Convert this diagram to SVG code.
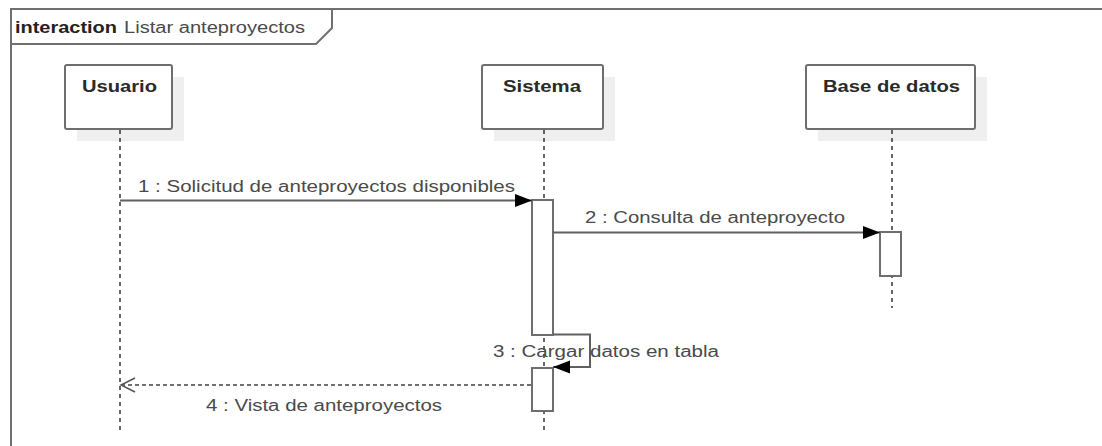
<svg xmlns="http://www.w3.org/2000/svg" width="1102" height="446" viewBox="0 0 1102 446">
<style>
  .frame{fill:none;stroke:#707070;stroke-width:2}
  .box{fill:#ffffff;stroke:#6e6e6e;stroke-width:2}
  .shadow{fill:#efefef;stroke:none}
  .life{stroke:#333;stroke-width:1.5;stroke-dasharray:4 4;fill:none}
  .act{fill:#ffffff;stroke:#6e6e6e;stroke-width:2}
  .msg{stroke:#606060;stroke-width:2;fill:none}
  .ret{stroke:#707070;stroke-width:2;fill:none;stroke-dasharray:4 3}
  .name{font-family:"Liberation Sans",Arial,sans-serif;font-size:16px;font-weight:bold;fill:#2a2a2a}
  .lbl{font-family:"Liberation Sans",Arial,sans-serif;font-size:16px;fill:#4a4a4a}
  .ttl{font-family:"Liberation Sans",Arial,sans-serif;font-size:16px;fill:#4a4a4a}
</style>
<defs>
  <marker id="filled" markerWidth="18" markerHeight="14" refX="17" refY="7" orient="auto" markerUnits="userSpaceOnUse">
    <path d="M0,0.5 L17,7 L0,13.5 Z" fill="#000"/>
  </marker>
  <marker id="open" markerWidth="18" markerHeight="18" refX="1" refY="8" orient="auto-start-reverse" markerUnits="userSpaceOnUse">
    <path d="M16,1 L1,8 L16,15" fill="none" stroke="#555" stroke-width="1.5"/>
  </marker>
</defs>
<rect width="1102" height="446" fill="#ffffff"/>
<g id="frame">
  <rect class="frame" x="11" y="9" width="1100" height="450"/>
  <path class="frame" d="M11,44 L316,44 L332,28 L332,9"/>
  <text x="15" y="33" class="ttl"><tspan font-weight="bold" fill="#222" textLength="102" lengthAdjust="spacingAndGlyphs">interaction</tspan></text>
  <text x="124" y="33" class="ttl" textLength="181" lengthAdjust="spacingAndGlyphs">Listar anteproyectos</text>
</g>
<g id="usuario">
  <rect class="shadow" x="77" y="77" width="107" height="64"/>
  <rect class="box" x="65" y="65" width="107" height="64" rx="2"/>
  <text class="name" x="82" y="92" textLength="75" lengthAdjust="spacingAndGlyphs">Usuario</text>
  <line class="life" x1="120" y1="130" x2="120" y2="434"/>
</g>
<g id="sistema">
  <rect class="shadow" x="494" y="77" width="121" height="64"/>
  <rect class="box" x="482" y="65" width="121" height="64" rx="2"/>
  <text class="name" x="503" y="92" textLength="78" lengthAdjust="spacingAndGlyphs">Sistema</text>
  <line class="life" x1="544" y1="130" x2="544" y2="434"/>
  <rect class="act" x="532" y="200" width="21" height="135"/>
  <rect class="act" x="532" y="368" width="21" height="43"/>
</g>
<g id="basededatos">
  <rect class="shadow" x="818" y="77" width="169" height="64"/>
  <rect class="box" x="806" y="65" width="169" height="64" rx="2"/>
  <text class="name" x="823" y="92" textLength="137" lengthAdjust="spacingAndGlyphs">Base de datos</text>
  <line class="life" x1="892" y1="130" x2="892" y2="308"/>
  <rect class="act" x="880" y="232" width="21" height="44"/>
</g>
<g id="connectors">
  <line class="msg" x1="120" y1="200.5" x2="532" y2="200.5" marker-end="url(#filled)"/>
  <text class="lbl" x="138" y="192" textLength="377" lengthAdjust="spacingAndGlyphs">1 : Solicitud de anteproyectos disponibles</text>
  <line class="msg" x1="553" y1="232.5" x2="880" y2="232.5" marker-end="url(#filled)"/>
  <text class="lbl" x="585" y="223" textLength="260" lengthAdjust="spacingAndGlyphs">2 : Consulta de anteproyecto</text>
  <path class="msg" d="M553,334.5 L590,334.5 L590,367 L553,367" marker-end="url(#filled)"/>
  <text class="lbl" x="493" y="357" textLength="226" lengthAdjust="spacingAndGlyphs">3 : Cargar datos en tabla</text>
  <line class="ret" x1="531" y1="385" x2="121" y2="385"/>
  <path d="M135,378 L121,385 L135,392" fill="none" stroke="#555" stroke-width="1.5"/>
  <text class="lbl" x="206" y="411" textLength="236" lengthAdjust="spacingAndGlyphs">4 : Vista de anteproyectos</text>
</g>
</svg>
